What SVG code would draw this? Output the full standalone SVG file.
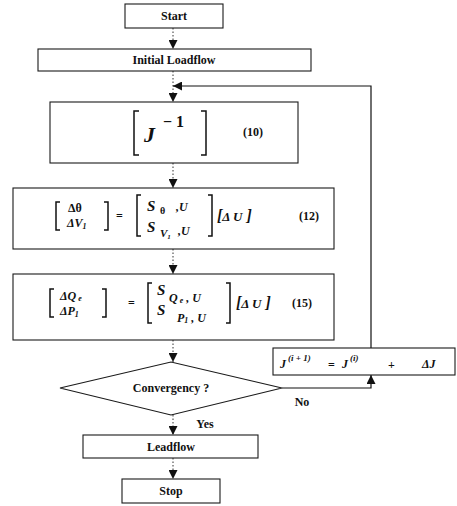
<svg xmlns="http://www.w3.org/2000/svg" width="457" height="506" viewBox="0 0 457 506">
  <defs>
    <marker id="arrow" viewBox="0 0 10 10" refX="10" refY="5" markerWidth="9" markerHeight="9" markerUnits="userSpaceOnUse" orient="auto">
      <path d="M0,0 L10,5 L0,10 z" fill="#111"/>
    </marker>
    <style>
      .box { fill: #fff; stroke: #1a1a1a; stroke-width: 1.1; }
      .lbl { font-family: "Liberation Serif", "Times New Roman", serif; font-weight: bold; font-size: 12px; fill: #111; text-anchor: middle; }
      .m { font-family: "Liberation Serif", "Times New Roman", serif; font-weight: bold; font-style: italic; font-size: 12px; fill: #111; }
      .mr { font-family: "Liberation Serif", "Times New Roman", serif; font-weight: bold; font-size: 12px; fill: #111; }
      .sub { font-size: 8px; }
      .sup { font-size: 9px; }
      .brk { fill: none; stroke: #111; stroke-width: 1.5; }
      .flow { fill: none; stroke: #333; stroke-width: 1; stroke-dasharray: 1.5 2; }
      .loop { fill: none; stroke: #111; stroke-width: 1.2; }
    </style>
  </defs>

  <rect width="457" height="506" fill="#fff"/>

  <!-- connectors -->
  <g id="connectors">
    <line class="flow" x1="173" y1="28" x2="173" y2="49" marker-end="url(#arrow)"/>
    <line class="flow" x1="173" y1="71" x2="173" y2="102" marker-end="url(#arrow)"/>
    <polyline class="loop" points="371,348 371,86 173,86" marker-end="url(#arrow)"/>
    <line class="flow" x1="173" y1="163" x2="173" y2="188" marker-end="url(#arrow)"/>
    <line class="flow" x1="173" y1="249" x2="173" y2="274" marker-end="url(#arrow)"/>
    <line class="flow" x1="173" y1="340" x2="173" y2="362" marker-end="url(#arrow)"/>
    <polyline class="loop" points="282,388 371,388 371,375" marker-end="url(#arrow)"/>
    <line class="flow" x1="173" y1="415" x2="173" y2="435" marker-end="url(#arrow)"/>
    <line class="flow" x1="173" y1="458" x2="173" y2="479" marker-end="url(#arrow)"/>
    <text class="lbl" x="302" y="406">No</text>
    <text class="lbl" x="205" y="428">Yes</text>
  </g>

  <g id="start">
    <rect class="box" x="125" y="4" width="98" height="24"/>
    <text class="lbl" x="174" y="20">Start</text>
  </g>

  <g id="initial-loadflow">
    <rect class="box" x="38" y="49" width="273" height="22"/>
    <text class="lbl" x="174" y="64">Initial Loadflow</text>
  </g>

  <g id="jacobian-inverse">
    <rect class="box" x="50" y="102" width="248" height="61"/>
    <path class="brk" d="M139,111 H134 V155 H139 M201,111 H206 V155 H201"/>
    <text class="m" x="144" y="142" style="font-size:22px">J</text>
    <text class="mr" x="163" y="127" style="font-size:16px">− 1</text>
    <text class="mr" x="243" y="136">(10)</text>
  </g>

  <g id="eq12">
    <rect class="box" x="13" y="188" width="321" height="61"/>
    <path class="brk" d="M60,202 H56 V230 H60 M104,202 H108 V230 H104"/>
    <text class="mr" x="68" y="212">Δθ</text>
    <text class="m" x="67" y="227">ΔV<tspan class="sub" dy="2">1</tspan></text>
    <text class="mr" x="116" y="220">=</text>
    <path class="brk" d="M141,195 H137 V236 H141 M208,195 H212 V236 H208"/>
    <text class="m" x="147" y="211" style="font-size:15px">S</text>
    <text class="mr" x="160" y="214" style="font-size:10px">θ</text>
    <text class="m" x="176" y="211">,U</text>
    <text class="m" x="147" y="232" style="font-size:15px">S</text>
    <text class="m" x="160" y="237" style="font-size:11px">V<tspan dy="2" style="font-size:7px">1</tspan></text>
    <text class="m" x="178" y="235">,U</text>
    <text class="m" x="217" y="221" style="font-size:16px">[<tspan style="font-size:13px">Δ U</tspan>  ]</text>
    <text class="mr" x="299" y="220">(12)</text>
  </g>

  <g id="eq15">
    <rect class="box" x="13" y="274" width="321" height="66"/>
    <path class="brk" d="M54,289 H50 V317 H54 M102,289 H106 V317 H102"/>
    <text class="m" x="60" y="300">ΔQ<tspan class="sub" dx="2" dy="1">e</tspan></text>
    <text class="m" x="60" y="315">ΔP<tspan class="sub" dy="2">1</tspan></text>
    <text class="mr" x="128" y="307">=</text>
    <path class="brk" d="M152,283 H148 V323 H152 M226,283 H230 V323 H226"/>
    <text class="m" x="157" y="295" style="font-size:15px">S</text>
    <text class="m" x="169" y="302">Q<tspan class="sub" dx="2" dy="1">e</tspan><tspan dy="-1"> , U</tspan></text>
    <text class="m" x="157" y="315" style="font-size:15px">S</text>
    <text class="m" x="177" y="322">P<tspan class="sub" dy="1">1</tspan><tspan dy="-1"> , U</tspan></text>
    <text class="m" x="236" y="308" style="font-size:16px">[<tspan style="font-size:13px">Δ U</tspan>  ]</text>
    <text class="mr" x="292" y="307">(15)</text>
  </g>

  <g id="convergency">
    <polygon class="box" points="60,388 171,362 282,388 171,415"/>
    <text class="lbl" x="171" y="392">Convergency ?</text>
  </g>

  <g id="jacobian-update">
    <rect class="box" x="273" y="348" width="182" height="27"/>
    <text class="m" x="280" y="368">J</text>
    <text class="m sup" x="288" y="361">(i + 1)</text>
    <text class="mr" x="328" y="369">=</text>
    <text class="m" x="342" y="368">J</text>
    <text class="m sup" x="350" y="361">(i)</text>
    <text class="mr" x="388" y="369">+</text>
    <text class="m" x="422" y="368">ΔJ</text>
  </g>

  <g id="leadflow">
    <rect class="box" x="83" y="435" width="175" height="23"/>
    <text class="lbl" x="171" y="451">Leadflow</text>
  </g>

  <g id="stop">
    <rect class="box" x="122" y="479" width="98" height="24"/>
    <text class="lbl" x="171" y="495">Stop</text>
  </g>
</svg>
